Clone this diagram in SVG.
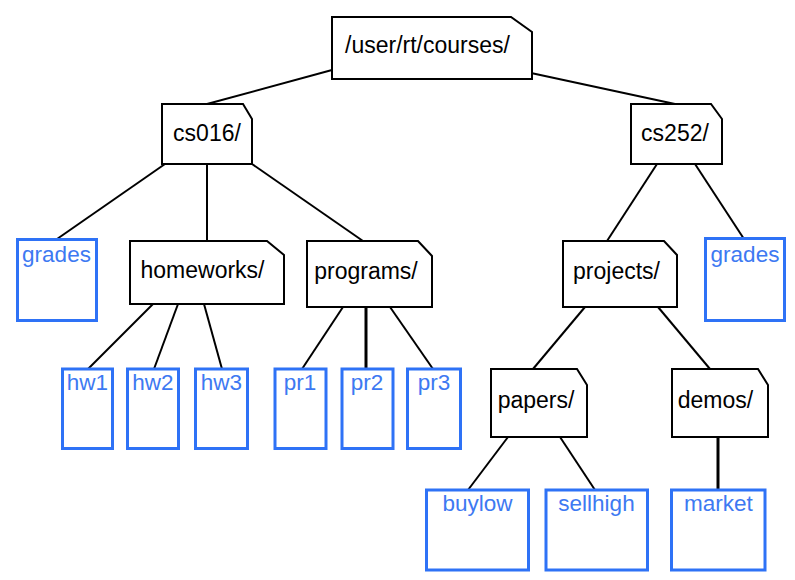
<svg xmlns="http://www.w3.org/2000/svg" width="795" height="580" viewBox="0 0 795 580">
<style>
.dir{fill:#fff;stroke:#000;stroke-width:2;stroke-linejoin:miter}
.file{fill:#fff;stroke:#2e72f6;stroke-width:3}
.dt{font-family:"Liberation Sans",Arial,sans-serif;font-size:23px;fill:#000;text-anchor:middle}
.ft{font-family:"Liberation Sans",Arial,sans-serif;font-size:22.5px;fill:#3d79f2;text-anchor:middle}
.edges line{stroke:#000;stroke-width:2}
.edges line.thick{stroke-width:3}
</style>
<rect width="795" height="580" fill="#fff"/>
<g id="connectors" class="edges">
<line x1="332" y1="70" x2="207" y2="104"/>
<line x1="531" y1="73" x2="675" y2="104"/>
<line x1="165" y1="164" x2="57" y2="239"/>
<line x1="207" y1="164" x2="207" y2="241"/>
<line x1="252" y1="164" x2="363" y2="241"/>
<line x1="657" y1="164" x2="607" y2="241"/>
<line x1="695" y1="164" x2="744" y2="239"/>
<line x1="153" y1="304" x2="88" y2="369"/>
<line x1="178" y1="304" x2="154" y2="369"/>
<line x1="204" y1="304" x2="222" y2="369"/>
<line x1="343" y1="307" x2="302" y2="369"/>
<line class="thick" x1="366" y1="307" x2="366" y2="369"/>
<line x1="390" y1="307" x2="433" y2="369"/>
<line x1="585" y1="307" x2="533" y2="369"/>
<line x1="658" y1="307" x2="710" y2="369"/>
<line x1="508" y1="437" x2="468" y2="490"/>
<line x1="560" y1="437" x2="595" y2="490"/>
<line class="thick" x1="718" y1="437" x2="718" y2="490"/>
</g>
<g id="root">
<path class="dir" d="M332,17 H511 L532,32 V79 H332 Z"/>
<text class="dt" x="427.5" y="53">/user/rt/courses/</text>
</g>
<g id="cs016">
<path class="dir" d="M162,104 H243 L252,119 V164 H162 Z"/>
<text class="dt" x="207" y="141">cs016/</text>
</g>
<g id="cs252">
<path class="dir" d="M631,104 H711 L722,119 V164 H631 Z"/>
<text class="dt" x="675" y="141">cs252/</text>
</g>
<g id="homeworks">
<path class="dir" d="M130,241 H267 L284,255 V304 H130 Z"/>
<text class="dt" x="202.5" y="278">homeworks/</text>
</g>
<g id="programs">
<path class="dir" d="M307,241 H418 L432,256 V307 H307 Z"/>
<text class="dt" x="366" y="279">programs/</text>
</g>
<g id="projects">
<path class="dir" d="M563,241 H664 L677,255 V307 H563 Z"/>
<text class="dt" x="616.5" y="279">projects/</text>
</g>
<g id="papers">
<path class="dir" d="M491,369 H577 L587,385 V437 H491 Z"/>
<text class="dt" x="536" y="408">papers/</text>
</g>
<g id="demos">
<path class="dir" d="M672,369 H758 L768,385 V437 H672 Z"/>
<text class="dt" x="715.5" y="408">demos/</text>
</g>
<g id="grades1">
<rect class="file" x="17.5" y="239.5" width="79" height="81"/>
<text class="ft" x="56.5" y="262">grades</text>
</g>
<g id="grades2">
<rect class="file" x="705.5" y="238.5" width="79" height="82"/>
<text class="ft" x="745" y="262">grades</text>
</g>
<g id="hw1">
<rect class="file" x="62.5" y="369" width="50" height="79.5"/>
<text class="ft" x="87.5" y="390">hw1</text>
</g>
<g id="hw2">
<rect class="file" x="127.5" y="369" width="51" height="79.5"/>
<text class="ft" x="153" y="390">hw2</text>
</g>
<g id="hw3">
<rect class="file" x="195.5" y="369" width="52" height="79.5"/>
<text class="ft" x="221.5" y="390">hw3</text>
</g>
<g id="pr1">
<rect class="file" x="275" y="369" width="51" height="79.5"/>
<text class="ft" x="300" y="390">pr1</text>
</g>
<g id="pr2">
<rect class="file" x="342" y="369" width="51" height="79.5"/>
<text class="ft" x="367" y="390">pr2</text>
</g>
<g id="pr3">
<rect class="file" x="407.5" y="369" width="53" height="79.5"/>
<text class="ft" x="434" y="390">pr3</text>
</g>
<g id="buylow">
<rect class="file" x="426.5" y="490" width="102" height="80"/>
<text class="ft" x="477.5" y="511">buylow</text>
</g>
<g id="sellhigh">
<rect class="file" x="546" y="490" width="101.5" height="80"/>
<text class="ft" x="596.5" y="511">sellhigh</text>
</g>
<g id="market">
<rect class="file" x="671.5" y="490" width="93.5" height="80"/>
<text class="ft" x="718.5" y="511">market</text>
</g>
</svg>
